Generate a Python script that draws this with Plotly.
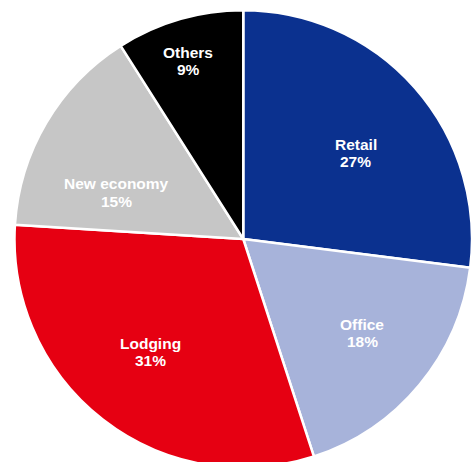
import math
import plotly.graph_objects as go

# Portfolio breakdown by property type (share of total, %)
categories = ["Retail", "Office", "Lodging", "New economy", "Others"]
shares = [27, 18, 31, 15, 9]
colors = ["#0b318f", "#a7b3da", "#e60012", "#c6c6c6", "#000000"]

# label placement inside each slice: fraction of radius, angular nudge (deg)
label_radius = [0.618, 0.662, 0.638, 0.591, 0.814]
label_nudge = [4.0, -1.3, 1.5, -10.6, -1.1]

W, H = 472, 470
cx, cy, r = 243.5, 239.0, 229.0
FONT = "Liberation Sans, Arial, sans-serif"
FS = 15.5
GAP = 17.6

fig = go.Figure(
    go.Pie(
        labels=categories,
        values=shares,
        sort=False,
        direction="clockwise",
        rotation=0,
        marker=dict(colors=colors, line=dict(color="#ffffff", width=2.5)),
        textinfo="none",
        hoverinfo="label+percent",
        domain=dict(
            x=[(cx - r) / W, min(1, (cx + r) / W)],
            y=[(H - (cy + r)) / H, (H - (cy - r)) / H],
        ),
    )
)

# place the two-line labels at each slice's mid angle (clockwise from 12 o'clock)
total = sum(shares)
start = 0.0
for name, val, f, nudge in zip(categories, shares, label_radius, label_nudge):
    sweep = 360.0 * val / total
    theta = math.radians(start + sweep / 2 + nudge)
    start += sweep
    px = cx + r * f * math.sin(theta)
    py = cy - r * f * math.cos(theta)
    for txt, shift in ((name, GAP / 2), (f"{val}%", -GAP / 2)):
        fig.add_annotation(
            x=px / W,
            y=(H - py) / H,
            xref="paper",
            yref="paper",
            text=f"<b>{txt}</b>",
            showarrow=False,
            xanchor="center",
            yanchor="middle",
            yshift=shift,
            font=dict(family=FONT, size=FS, color="#ffffff"),
        )

fig.update_layout(
    width=W,
    height=H,
    margin=dict(l=0, r=0, t=0, b=0),
    paper_bgcolor="#ffffff",
    showlegend=False,
)

fig.write_html("out.html", post_script="document.body.style.overflow='hidden';document.body.style.margin='0';")
